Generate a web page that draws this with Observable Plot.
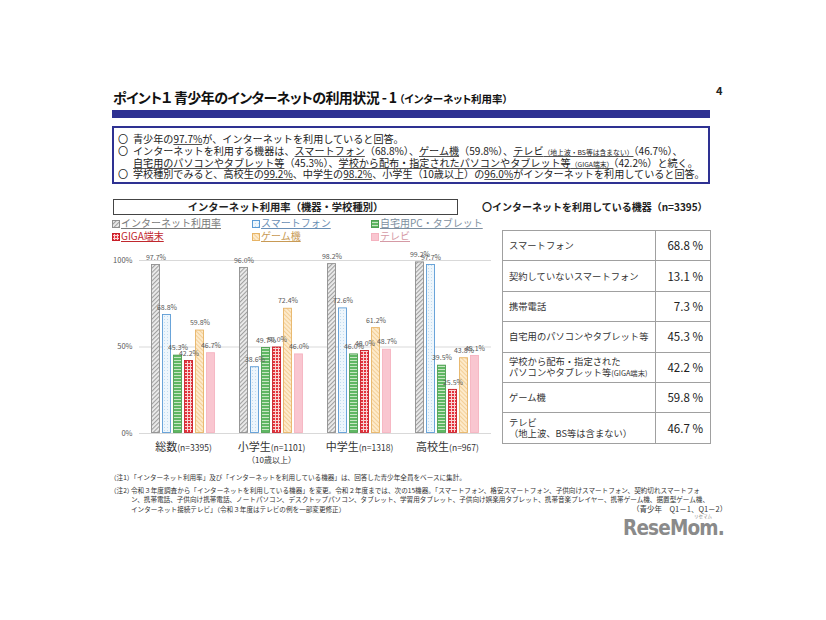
<!DOCTYPE html>
<html><head><meta charset="utf-8">
<script src="https://cdn.jsdelivr.net/npm/d3@7"></script>
<script src="https://cdn.jsdelivr.net/npm/@observablehq/plot@0.6"></script>
<style>
html,body{margin:0;padding:0;background:#fff;}
body{width:826px;height:620px;position:relative;overflow:hidden;font-family:"Noto Sans CJK JP","Noto Sans",sans-serif;color:#222;}
.abs{position:absolute;white-space:nowrap;}
#title{left:113px;top:87px;font-size:14px;font-weight:bold;color:#111;font-feature-settings:"palt";letter-spacing:-0.6px;}
#title small{font-size:10.5px;letter-spacing:0;}
#pgno{left:716px;top:82px;font-size:11px;font-weight:bold;}
#bar{left:112px;top:110px;width:598px;height:8px;background:#2e3192;}
#box{left:112px;top:126px;width:594px;height:54px;border:2px solid #2e3192;}
.bl{position:absolute;left:4px;font-size:10.1px;line-height:12px;color:#222;white-space:nowrap;}
.bl i{font-style:normal;display:inline-block;width:15px;}
.bl u{text-decoration-color:#555;}
.bl .sm{font-size:6.8px;}
#ctitle{left:113px;top:199px;width:343px;height:14px;border:1px solid #444;text-align:center;font-size:10.3px;font-weight:bold;line-height:14px;}
.lg{position:absolute;font-size:10px;line-height:12px;white-space:nowrap;}
.lg svg{vertical-align:-1px;margin-right:1px;}
.lg span{text-decoration:underline;}
#rtitle{left:482px;top:199px;font-size:10px;font-weight:bold;}
#tbl{position:absolute;left:502px;top:230px;border-collapse:collapse;}
#tbl td{border:1px solid #a0a0a0;height:29.4px;padding:0;font-size:9.3px;color:#333;line-height:11px;white-space:nowrap;}
#tbl td.n{text-align:right;padding-right:7px;font-size:11.5px;color:#222;width:47px;}
#tbl td.l{padding-left:6px;width:146px;}
#tbl .sm{font-size:7.3px;}
.fn{position:absolute;font-size:6.6px;color:#333;line-height:9.3px;white-space:nowrap;}
#src{left:632px;top:504px;font-size:7.5px;line-height:9px;color:#333;}
#logo{left:623px;top:515px;font-size:22px;font-weight:bold;color:#8a8a8a;font-family:"DejaVu Sans","Noto Sans",sans-serif;letter-spacing:-1px;transform:scaleX(0.84);transform-origin:left top;}
#logo2{left:694px;top:514px;font-size:4.5px;line-height:5px;color:#8a8a8a;}
#chart{position:absolute;left:110px;top:250px;}
</style></head>
<body>
<svg width="0" height="0" style="position:absolute">
<defs>
<pattern id="pGray" width="3" height="3" patternUnits="userSpaceOnUse" patternTransform="rotate(45)">
<rect width="3" height="3" fill="#ececec"/><rect width="1.1" height="3" fill="#a0a0a0"/></pattern>
<pattern id="pBlue" width="3" height="3" patternUnits="userSpaceOnUse">
<rect width="3" height="3" fill="#eef6fc"/><rect width="1" height="1" fill="#c2dcef"/></pattern>
<pattern id="pGreen" width="3" height="3" patternUnits="userSpaceOnUse">
<rect width="3" height="3" fill="#5fb763"/><rect y="2" width="3" height="1" fill="#c8e6c4"/></pattern>
<pattern id="pRed" width="3" height="3" patternUnits="userSpaceOnUse">
<rect width="3" height="3" fill="#e3323c"/><rect y="2" width="3" height="1" fill="#f8d3d3"/><rect x="2" width="1" height="3" fill="#f8d3d3"/></pattern>
<pattern id="pOrange" width="3" height="3" patternUnits="userSpaceOnUse" patternTransform="rotate(-45)">
<rect width="3" height="3" fill="#fdeacb"/><rect width="0.8" height="3" fill="#f1c98a"/></pattern>
</defs></svg>

<div id="title" class="abs">ポイント１ 青少年のインターネットの利用状況 - 1 <small>（インターネット利用率）</small></div>
<div id="pgno" class="abs">4</div>
<div id="bar" class="abs"></div>
<div id="box" class="abs">
<div class="bl" style="top:5px"><i>〇</i>青少年の<u>97.7%</u>が、インターネットを利用していると回答。</div>
<div class="bl" style="top:17px"><i>〇</i>インターネットを利用する機器は、<u>スマートフォン</u>（68.8%）、<u>ゲーム機</u>（59.8%）、<u>テレビ<span class="sm">（地上波・BS等は含まない）</span></u>（46.7%）、</div>
<div class="bl" style="top:29px;left:19px"><u>自宅用のパソコンやタブレット等</u>（45.3%）、<u>学校から配布・指定されたパソコンやタブレット等<span class="sm">（GIGA端末）</span></u>（42.2%）と続く。</div>
<div class="bl" style="top:40px"><i>〇</i>学校種別でみると、高校生の<u>99.2%</u>、中学生の<u>98.2%</u>、小学生（10歳以上）の<u>96.0%</u>がインターネットを利用していると回答。</div>
</div>
<div id="ctitle" class="abs">インターネット利用率（機器・学校種別）</div>
<div id="legend"></div>
<div id="chart"></div>
<div id="rtitle" class="abs">〇インターネットを利用している機器（n=3395）</div>
<table id="tbl"></table>
<div class="fn" style="left:110px;top:473px">（注1）「インターネット利用率」及び「インターネットを利用している機器」は、回答した青少年全員をベースに集計。</div>
<div class="fn" style="left:110px;top:486px">（注2）</div>
<div class="fn" style="left:131px;top:486px">令和３年度調査から「インターネットを利用している機器」を変更。令和２年度までは、次の15機器。「スマートフォン、格安スマートフォン、子供向けスマートフォン、契約切れスマートフォ<br>ン、携帯電話、子供向け携帯電話、ノートパソコン、デスクトップパソコン、タブレット、学習用タブレット、子供向け娯楽用タブレット、携帯音楽プレイヤー、携帯ゲーム機、据置型ゲーム機、<br>インターネット接続テレビ」（令和３年度はテレビの例を一部変更修正）</div>
<div id="src" class="abs">（青少年　Q1－1、Q1－2）</div>
<div id="logo2" class="abs">リセマム</div>
<div id="logo" class="abs">ReseMom.</div>
<script>
// ---- data ----
const groups = ["総数(n=3395)", "小学生(n=1101)", "中学生(n=1318)", "高校生(n=967)"];
const series = ["インターネット利用率", "スマートフォン", "自宅用PC・タブレット", "GIGA端末", "ゲーム機", "テレビ"];
const valuesTotal = [97.7, 68.8, 45.3, 42.2, 59.8, 46.7];
const valuesElem  = [96.0, 38.6, 49.7, 50.0, 72.4, 46.0];
const valuesJunior = [98.2, 72.6, 46.0, 48.0, 61.2, 48.7];
const valuesHigh  = [99.2, 97.7, 39.5, 25.5, 43.8, 45.1];
const yTicks = [0, 50, 100];
const tableItems = ["スマートフォン", "契約していないスマートフォン", "携帯電話", "自宅用のパソコンやタブレット等",
  "学校から配布・指定された<br>パソコンやタブレット等<span class='sm'>(GIGA端末)</span>", "ゲーム機", "テレビ<br>（地上波、BS等は含まない）"];
const tableValues = [68.8, 13.1, 7.3, 45.3, 42.2, 59.8, 46.7];

// ---- styles ----
const fills = ["url(#pGray)", "url(#pBlue)", "url(#pGreen)", "url(#pRed)", "url(#pOrange)", "#f9c6d0"];
const strokes = ["#8f8f8f", "#5b9bd5", "#4e9f52", "#c81e28", "#e7b466", "#f5b3c0"];
const legendText = ["#7a7a7a", "#6a8fb5", "#7d8fa0", "#c0282e", "#c89a55", "#d59aa5"];

const allValues = [valuesTotal, valuesElem, valuesJunior, valuesHigh];
const data = groups.flatMap((g, i) => series.map((s, j) => ({group: g, series: s, value: allValues[i][j]})));
const strokeOf = Object.fromEntries(series.map((s, j) => [s, strokes[j]]));

const plot = Plot.plot({
  width: 390, height: 225,
  marginLeft: 29, marginRight: 9, marginTop: 10, marginBottom: 42,
  style: {fontFamily: "'Noto Sans CJK JP', sans-serif", background: "transparent"},
  fx: {domain: groups, padding: 0, label: null, tickSize: 0, tickPadding: 10, axis: "bottom"},
  x: {domain: series, paddingInner: 0.14, paddingOuter: 0.86, axis: null},
  y: {domain: [0, 100], ticks: yTicks, tickFormat: d => d + "%", label: null, tickSize: 0, tickPadding: 7},
  color: {domain: series, range: fills},
  marks: [
    Plot.ruleY(yTicks, {stroke: "#d9d9d9", strokeWidth: 1}),
    Plot.barY(data, {fx: "group", x: "series", y: "value", fill: "series", stroke: d => strokeOf[d.series], strokeWidth: 0.9, inset: 0.5}),
    Plot.text(data, {fx: "group", x: "series", y: "value", text: d => d.value.toFixed(1) + "%", dy: -7, fontSize: 7, fill: "#595959", ariaLabel: "value-labels"}),
    Plot.text([groups[1]], {fx: d => d, text: () => "（10歳以上）", frameAnchor: "bottom", dy: 29, fontSize: 8, fill: "#333"})
  ]
});
document.getElementById("chart").appendChild(plot);

// style axis labels
plot.querySelectorAll('[aria-label="y-axis tick label"] text').forEach(t => { t.setAttribute("font-size", "7.5"); t.setAttribute("fill", "#595959"); });
plot.querySelectorAll('[aria-label="fx-axis tick label"] text').forEach(t => {
  const s = t.textContent; const k = s.indexOf("(");
  t.textContent = "";
  const a = document.createElementNS("http://www.w3.org/2000/svg", "tspan"); a.textContent = s.slice(0, k); a.setAttribute("font-size", "11");
  const b = document.createElementNS("http://www.w3.org/2000/svg", "tspan"); b.textContent = s.slice(k); b.setAttribute("font-size", "8.5");
  t.appendChild(a); t.appendChild(b); t.setAttribute("fill", "#333");
});
plot.querySelectorAll('g[aria-label="value-labels"]').forEach(g => {
  g.querySelectorAll("text").forEach((t, i) => { t.style.textDecoration = "underline"; t.style.textDecorationColor = strokes[i % 6]; });
});

// legend
const lg = document.getElementById("legend");
const cols = [112, 252, 371], rows = [217, 230];
series.forEach((s, j) => {
  const d = document.createElement("div");
  d.className = "lg";
  d.style.left = cols[j % 3] + "px"; d.style.top = rows[Math.floor(j / 3)] + "px";
  d.innerHTML = `<svg width="8" height="8"><rect x="0.5" y="0.5" width="7" height="7" fill="${fills[j]}" stroke="${strokes[j]}"/></svg><span style="color:${legendText[j]}">${s}</span>`;
  lg.appendChild(d);
});

// table
const tb = document.getElementById("tbl");
tableItems.forEach((t, i) => {
  const tr = document.createElement("tr");
  tr.innerHTML = `<td class="l">${t}</td><td class="n">${tableValues[i].toFixed(1)} %</td>`;
  tb.appendChild(tr);
});
</script>
</body></html>
